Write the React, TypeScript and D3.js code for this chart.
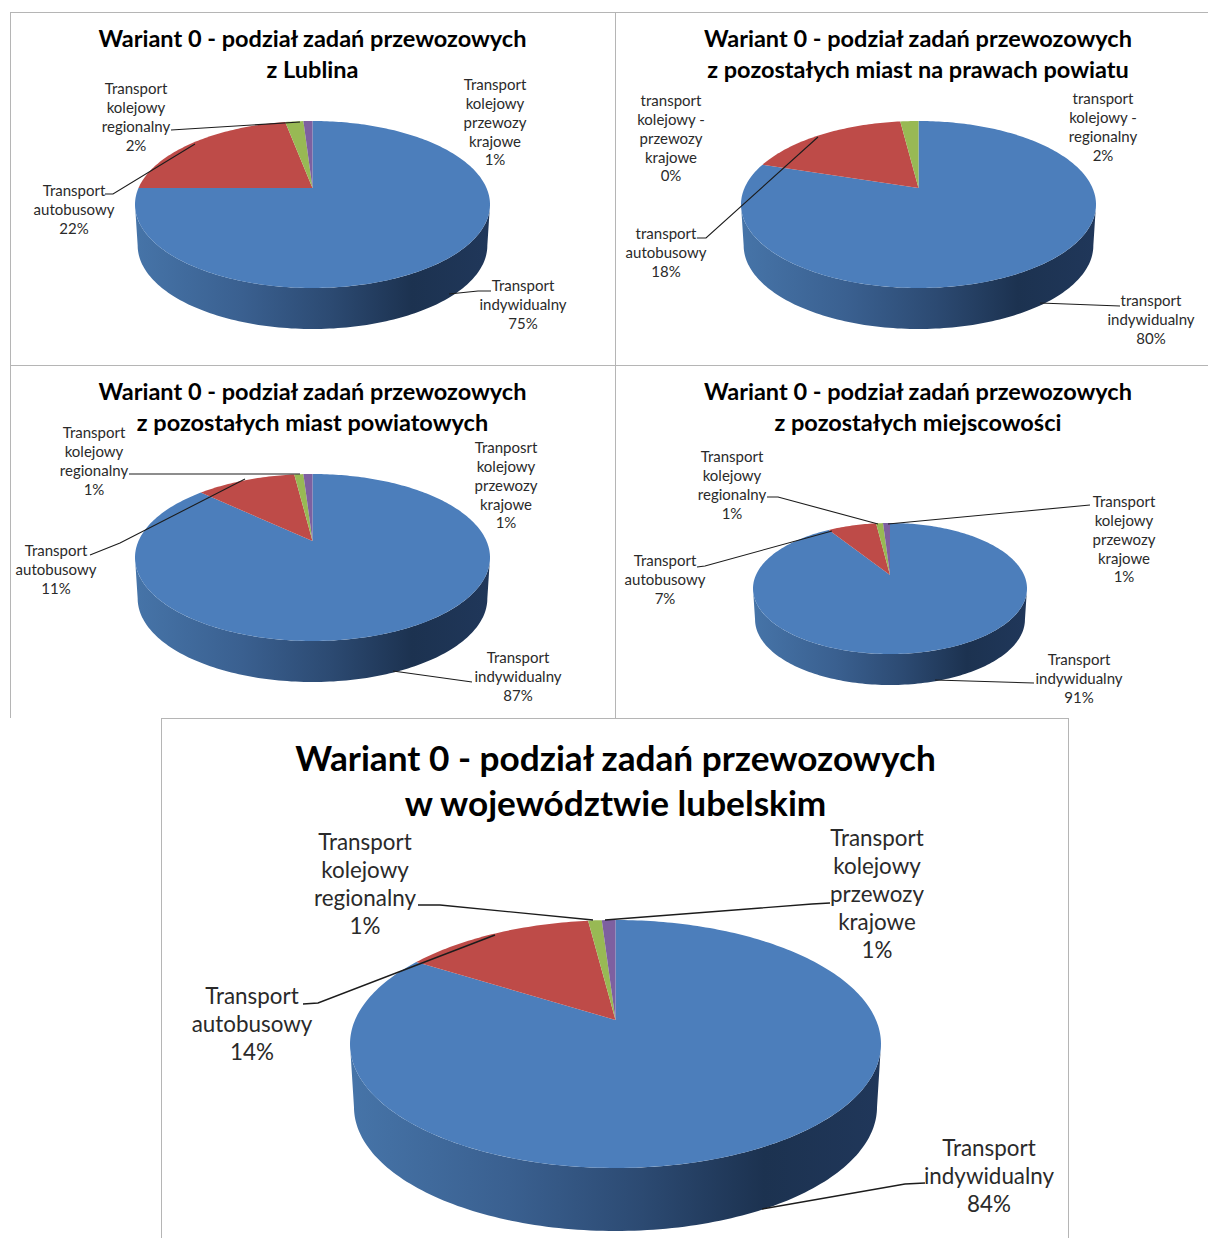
import * as d3 from "d3";
import React from "react";

// Modal split shares, in the order: car, bus, regional rail, national rail.
const lublinValues = [75, 22, 2, 1];
const powiatCityValues = [80, 18, 2, 0];
const countyTownValues = [87, 11, 1, 1];
const otherPlacesValues = [91, 7, 1, 1];
const voivodeshipValues = [84, 14, 1, 1];

const titleFirstLine = "Wariant 0 - podział zadań przewozowych";
const titleSecondLines = [
  "z Lublina",
  "z pozostałych miast na prawach powiatu",
  "z pozostałych miast powiatowych",
  "z pozostałych miejscowości",
  "w województwie lubelskim",
];

const sliceColors = ["#4c7ebb", "#be4b48", "#98b954", "#7d60a0"];

type Label = { lines: string[]; x: number; y: number };
type Panel = {
  values: number[];
  title: [string, string];
  titleX: number;
  titleY: [number, number];
  titleSize: number;
  labelSize: number;
  lineGap: number;
  left: number;
  right: number;
  top: number;
  bottom: number;
  apexY: number;
  depth: number;
  labels: Label[];
  leaders: [number, number][][];
  clipTop?: number;
};

const panels: Panel[] = [
  {
    values: lublinValues,
    title: [titleFirstLine, titleSecondLines[0]],
    titleX: 312.5, titleY: [39, 70], titleSize: 23.5, labelSize: 15, lineGap: 18.8,
    left: 135, right: 490, top: 121, bottom: 288, apexY: 188, depth: 41,
    labels: [
      { lines: ["Transport", "indywidualny", "75%"], x: 523, y: 286 },
      { lines: ["Transport", "autobusowy", "22%"], x: 74, y: 191 },
      { lines: ["Transport", "kolejowy", "regionalny", "2%"], x: 136, y: 89 },
      { lines: ["Transport", "kolejowy", "przewozy", "krajowe", "1%"], x: 495, y: 85 },
    ],
    leaders: [
      [[449, 294], [478, 291], [491, 291]],
      [[105, 194], [113, 194], [195, 144]],
      [[171, 130], [300, 122]],
    ],
  },
  {
    values: powiatCityValues,
    title: [titleFirstLine, titleSecondLines[1]],
    titleX: 918, titleY: [39, 70], titleSize: 23.5, labelSize: 15, lineGap: 18.8,
    left: 741, right: 1096, top: 121, bottom: 288, apexY: 188, depth: 41,
    labels: [
      { lines: ["transport", "indywidualny", "80%"], x: 1151, y: 301 },
      { lines: ["transport", "autobusowy", "18%"], x: 666, y: 234 },
      { lines: ["transport", "kolejowy -", "regionalny", "2%"], x: 1103, y: 99 },
      { lines: ["transport", "kolejowy -", "przewozy", "krajowe", "0%"], x: 671, y: 101 },
    ],
    leaders: [
      [[1040, 303], [1120, 306]],
      [[697, 238], [706, 238], [818, 137]],
    ],
  },
  {
    values: countyTownValues,
    title: [titleFirstLine, titleSecondLines[2]],
    titleX: 312.5, titleY: [392, 423], titleSize: 23.5, labelSize: 15, lineGap: 18.8,
    left: 135, right: 490, top: 474, bottom: 641, apexY: 541, depth: 41,
    labels: [
      { lines: ["Transport", "indywidualny", "87%"], x: 518, y: 658 },
      { lines: ["Transport", "autobusowy", "11%"], x: 56, y: 551 },
      { lines: ["Transport", "kolejowy", "regionalny", "1%"], x: 94, y: 433 },
      { lines: ["Tranposrt", "kolejowy", "przewozy", "krajowe", "1%"], x: 506, y: 448 },
    ],
    leaders: [
      [[393, 671], [472, 682]],
      [[90, 555], [120, 543], [245, 479]],
      [[129, 474], [300, 474]],
    ],
  },
  {
    values: otherPlacesValues,
    title: [titleFirstLine, titleSecondLines[3]],
    titleX: 918, titleY: [392, 423], titleSize: 23.5, labelSize: 15, lineGap: 18.8,
    left: 753, right: 1027, top: 523, bottom: 654, apexY: 575, depth: 31,
    clipTop: 451,
    labels: [
      { lines: ["Transport", "indywidualny", "91%"], x: 1079, y: 660 },
      { lines: ["Transport", "autobusowy", "7%"], x: 665, y: 561 },
      { lines: ["Transport", "kolejowy", "regionalny", "1%"], x: 732, y: 457 },
      { lines: ["Transport", "kolejowy", "przewozy", "krajowe", "1%"], x: 1124, y: 502 },
    ],
    leaders: [
      [[935, 680], [1034, 683]],
      [[697, 567], [705, 566], [832, 531]],
      [[767, 497], [778, 497], [878, 524]],
      [[888, 524], [1090, 505]],
    ],
  },
  {
    values: voivodeshipValues,
    title: [titleFirstLine, titleSecondLines[4]],
    titleX: 615.5, titleY: [759, 804], titleSize: 35.2, labelSize: 22.4, lineGap: 28.2,
    left: 350, right: 881, top: 920, bottom: 1168, apexY: 1020, depth: 63,
    labels: [
      { lines: ["Transport", "indywidualny", "84%"], x: 989, y: 1148 },
      { lines: ["Transport", "autobusowy", "14%"], x: 252, y: 996 },
      { lines: ["Transport", "kolejowy", "regionalny", "1%"], x: 365, y: 842 },
      { lines: ["Transport", "kolejowy", "przewozy", "krajowe", "1%"], x: 877, y: 838 },
    ],
    leaders: [
      [[762, 1209], [905, 1184], [925, 1183]],
      [[303, 1004], [318, 1003], [495, 935]],
      [[418, 905], [440, 905], [593, 920]],
      [[605, 920], [812, 904], [830, 903]],
    ],
  },
];

// Panel frames as [x1, y1, x2, y2].
const frameLines = [
  [10, 12.5, 1208, 12.5],
  [10, 365.5, 1208, 365.5],
  [10.5, 12, 10.5, 718],
  [615.5, 12, 615.5, 718],
  [161, 718.5, 1069, 718.5],
  [161.5, 718, 161.5, 1238],
  [1068.5, 718, 1068.5, 1238],
];

const FONT = "Lato, Carlito, 'Open Sans', sans-serif";
const line = d3.line<[number, number]>();
const pie = d3.pie<number>().sort(null).value((d) => d);

// Perspective projection of the pie's unit disc: the disc centre lands on the
// apex, which sits above the middle of the drawn ellipse.
function projector(p: Panel) {
  const cx = (p.left + p.right) / 2;
  const up = p.apexY - p.top;
  const down = p.bottom - p.apexY;
  const k = (down - up) / (down + up);
  const b = up * (1 + k);
  const a = ((p.right - p.left) / 2) * Math.sqrt(1 - k * k);
  const at = (theta: number, scale = 1, dy = 0): [number, number] => {
    const u = Math.sin(theta);
    const v = -Math.cos(theta);
    const w = 1 - k * v;
    return [cx + (scale * a * u) / w, p.apexY + dy + (b * v) / w];
  };
  return { at, k, cx };
}

function samples(from: number, to: number): number[] {
  const n = Math.max(2, Math.ceil(Math.abs(to - from) / 0.02));
  return d3.range(n + 1).map((i) => from + ((to - from) * i) / n);
}

function Pie3D({ p, id }: { p: Panel; id: number }) {
  const { at, k, cx } = projector(p);
  // Where the visible rim begins: the ellipse's widest points.
  const t0 = Math.acos(-k);
  const topRim = samples(t0, 2 * Math.PI - t0).map((t) => at(t));
  const lowRim = samples(2 * Math.PI - t0, t0).map((t) => at(t, 0.985, p.depth));
  const arcs = pie(p.values);
  return (
    <g>
      <path d={line([...topRim, ...lowRim]) + "Z"} fill={`url(#rim${id})`} />
      {arcs.map((a, i) =>
        a.value > 0 ? (
          <path
            key={i}
            d={line([[cx, p.apexY], ...samples(a.startAngle, a.endAngle).map((t) => at(t))]) + "Z"}
            fill={sliceColors[i]}
          />
        ) : null
      )}
    </g>
  );
}

function PanelView({ p, id }: { p: Panel; id: number }) {
  const cap = p.labelSize * 0.34;
  return (
    <g>
      <Pie3D p={p} id={id} />
      {p.leaders.map((pts, i) => (
        <path
          key={i}
          d={line(pts) ?? ""}
          fill="none"
          stroke="#1c1c1c"
          strokeWidth={p.labelSize > 15 ? 1.4 : 1.1}
        />
      ))}
      {p.title.map((t, i) => (
        <text
          key={i}
          x={p.titleX}
          y={p.titleY[i] + p.titleSize * 0.34}
          textAnchor="middle"
          fontFamily={FONT}
          fontWeight={700}
          fontSize={p.titleSize}
          fill="#000"
        >
          {t}
        </text>
      ))}
      <g clipPath={p.clipTop ? `url(#labelClip${id})` : undefined}>
        {p.labels.map((l, i) =>
          l.lines.map((s, j) => (
            <text
              key={`${i}-${j}`}
              x={l.x}
              y={l.y + j * p.lineGap + cap}
              textAnchor="middle"
              fontFamily={FONT}
              fontSize={p.labelSize}
              fill="#2a2a2a"
            >
              {s}
            </text>
          ))
        )}
      </g>
    </g>
  );
}

export default function App() {
  return (
    <svg
      width={1208}
      height={1238}
      viewBox="0 0 1208 1238"
      style={{ position: "fixed", left: 0, top: 0, background: "#fff" }}
    >
      <defs>
        {panels.map((p, i) => (
          <linearGradient key={i} id={`rim${i}`} x1="0" x2="1" y1="0" y2="0">
            <stop offset="0" stopColor="#4674a8" />
            <stop offset="0.3" stopColor="#3a6090" />
            <stop offset="0.55" stopColor="#2c4a72" />
            <stop offset="0.78" stopColor="#1c3250" />
            <stop offset="1" stopColor="#20375a" />
          </linearGradient>
        ))}
        {panels.map((p, i) =>
          p.clipTop ? (
            <clipPath key={i} id={`labelClip${i}`}>
              <rect x={0} y={p.clipTop} width={1208} height={1238 - p.clipTop} />
            </clipPath>
          ) : null
        )}
      </defs>
      <rect width={1208} height={1238} fill="#fff" />
      {frameLines.map(([x1, y1, x2, y2], i) => (
        <line key={i} x1={x1} y1={y1} x2={x2} y2={y2} stroke="#b5b5b5" strokeWidth={1} />
      ))}
      {panels.map((p, i) => (
        <PanelView key={i} p={p} id={i} />
      ))}
    </svg>
  );
}
